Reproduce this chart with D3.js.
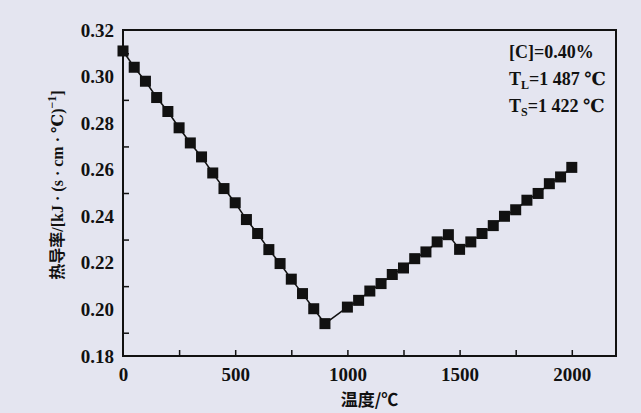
<!DOCTYPE html>
<html>
<head>
<meta charset="utf-8">
<script src="https://cdn.jsdelivr.net/npm/d3@7"></script>
<style>
  body { margin: 0; background: #e4e5f0; }
  svg { display: block; }
</style>
</head>
<body>
<div id="chart"></div>
<script>
// temperature (°C) and thermal conductivity
var temps = [0, 50, 100, 150, 200, 250, 300, 350, 400, 450, 500, 550, 600, 650, 700, 750, 800, 850, 900,
  1000, 1050, 1100, 1150, 1200, 1250, 1300, 1350, 1400, 1450, 1500, 1550, 1600, 1650, 1700, 1750, 1800, 1850, 1900, 1950, 2000];
var conduct = [0.311, 0.304, 0.298, 0.291, 0.285, 0.278, 0.2715, 0.2655, 0.2586, 0.2519, 0.2458, 0.2386, 0.2326, 0.2257, 0.2197, 0.213, 0.2068, 0.2003, 0.1939,
  0.201, 0.2039, 0.2079, 0.2111, 0.215, 0.2178, 0.2218, 0.2247, 0.229, 0.2321, 0.2258, 0.229, 0.2326, 0.236, 0.24, 0.2428, 0.2469, 0.2498, 0.254, 0.2569, 0.261];
var xTicks = [0, 500, 1000, 1500, 2000];
var xMinor = [250, 500, 750, 1000, 1250, 1500, 1750, 2000];
var yTicks = [0.18, 0.20, 0.22, 0.24, 0.26, 0.28, 0.30, 0.32];
var yMinor = [0.19, 0.21, 0.23, 0.25, 0.27, 0.29, 0.31];
var notes = ["[C]=0.40%", "T|L|=1 487 ℃", "T|S|=1 422 ℃"];

var W = 641, H = 413;
var margin = {top: 30, right: 25, bottom: 57, left: 123},
    width = W - margin.left - margin.right,
    height = H - margin.top - margin.bottom;

var svg = d3.select("#chart").append("svg").attr("width", W).attr("height", H);
svg.append("rect").attr("width", W).attr("height", H).style("fill", "#e4e5f0");

var g = svg.append("g").attr("transform", "translate(" + margin.left + "," + margin.top + ")");

var x = d3.scaleLinear().domain([0, 2197]).range([0, width]);
var y = d3.scaleLinear().domain([0.18, 0.32]).range([height, 0]);

var serif = "'Liberation Serif', 'DejaVu Serif', serif";

// tick labels
g.append("g").attr("transform", "translate(0," + height + ")")
  .call(d3.axisBottom(x).tickValues(xTicks).tickSize(0).tickPadding(12).tickFormat(d3.format("d")))
  .call(function(a) { a.select(".domain").remove(); })
  .selectAll("text").style("font-family", serif).style("font-weight", "bold").style("font-size", "19px").style("fill", "#111");

g.append("g")
  .call(d3.axisLeft(y).tickValues(yTicks).tickSize(0).tickPadding(9).tickFormat(d3.format(".2f")))
  .call(function(a) { a.select(".domain").remove(); })
  .selectAll("text").style("font-family", serif).style("font-weight", "bold").style("font-size", "19px").style("fill", "#111");

// inward tick marks
g.append("g").attr("transform", "translate(0," + height + ")")
  .call(d3.axisBottom(x).tickValues(xMinor).tickSizeInner(-6).tickSizeOuter(0).tickFormat(""))
  .call(function(a) { a.select(".domain").remove(); a.selectAll("line").style("stroke", "#111").style("stroke-width", 1.5); });

g.append("g")
  .call(d3.axisLeft(y).tickValues(yMinor).tickSizeInner(-6).tickSizeOuter(0).tickFormat(""))
  .call(function(a) { a.select(".domain").remove(); a.selectAll("line").style("stroke", "#111").style("stroke-width", 1.5); });

// frame
g.append("rect").attr("width", width).attr("height", height)
  .style("fill", "none").style("stroke", "#111").style("stroke-width", 2);

// line + square markers
var pts = temps.map(function(t, i) { return {t: t, k: conduct[i]}; });
g.append("path").datum(pts)
  .attr("d", d3.line().x(function(d) { return x(d.t); }).y(function(d) { return y(d.k); }))
  .style("fill", "none").style("stroke", "#111").style("stroke-width", 1.5);

var ms = 11;
g.selectAll("rect.pt").data(pts).enter().append("rect").attr("class", "pt")
  .attr("x", function(d) { return x(d.t) - ms / 2; })
  .attr("y", function(d) { return y(d.k) - ms / 2; })
  .attr("width", ms).attr("height", ms)
  .style("fill", "#111");

// annotation
var note = g.append("g").attr("transform", "translate(" + (x(1720)) + ",0)");
notes.forEach(function(s, i) {
  var parts = s.split("|");
  var t = note.append("text").attr("y", 28 + i * 27)
    .style("font-family", serif).style("font-weight", "bold").style("font-size", "18px").style("fill", "#111");
  t.append("tspan").text(parts[0]);
  if (parts.length > 1) {
    t.append("tspan").attr("dy", 4).style("font-size", "12px").text(parts[1]);
    t.append("tspan").attr("dy", -4).text(parts[2]);
  }
});

// axis titles
svg.append("text")
  .attr("x", margin.left + width / 2).attr("y", 406)
  .attr("text-anchor", "middle")
  .style("font-family", "'Noto Sans CJK SC', sans-serif").style("font-weight", "bold").style("font-size", "17px").style("fill", "#111")
  .text("温度/℃");

var yl = svg.append("text")
  .attr("transform", "translate(63,185) rotate(-90)")
  .attr("text-anchor", "middle")
  .style("font-size", "16px").style("fill", "#111");
yl.append("tspan").style("font-family", "'Noto Sans CJK SC', sans-serif").style("font-weight", "bold").text("热导率");
yl.append("tspan").style("font-family", serif).style("font-weight", "bold").text("/[kJ · (s · cm · ℃)");
yl.append("tspan").attr("dy", -7).style("font-family", serif).style("font-weight", "bold").style("font-size", "12px").text("−1");
yl.append("tspan").attr("dy", 7).style("font-family", serif).style("font-weight", "bold").text("]");
</script>
</body>
</html>
